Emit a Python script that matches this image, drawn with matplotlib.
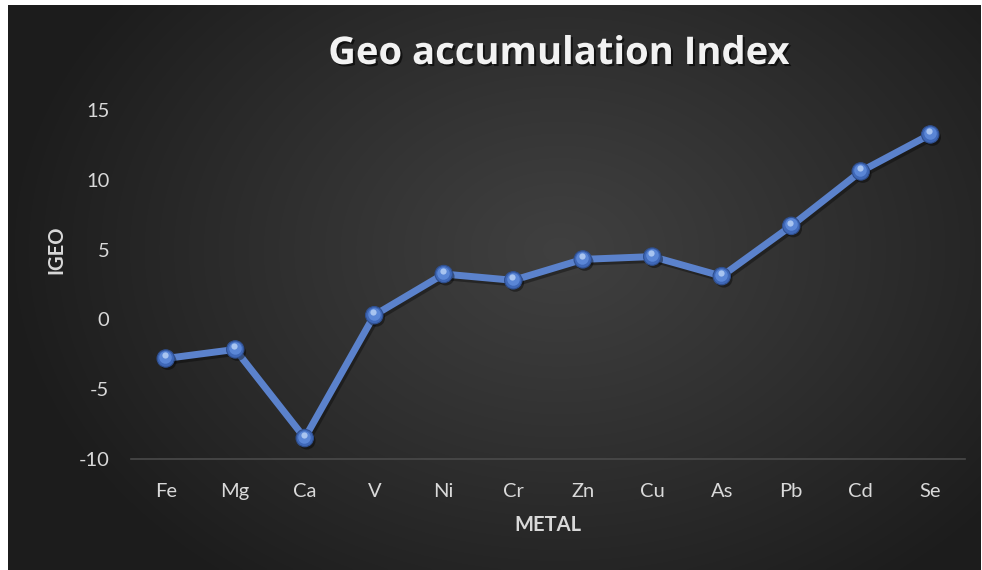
import numpy as np
import matplotlib
matplotlib.use("Agg")
import matplotlib.pyplot as plt
import matplotlib.patheffects as pe
from matplotlib.transforms import offset_copy

metals = ["Fe", "Mg", "Ca", "V", "Ni", "Cr", "Zn", "Cu", "As", "Pb", "Cd", "Se"]
igeo = [-2.8, -2.15, -8.5, 0.3, 3.25, 2.8, 4.3, 4.5, 3.1, 6.7, 10.6, 13.25]
yticks = [-10, -5, 0, 5, 10, 15]

W, H = 982, 570
fig = plt.figure(figsize=(W / 100, H / 100), dpi=100)
fig.patch.set_facecolor("white")

# background panel with radial gradient
bg = fig.add_axes([0, 0, 1, 1])
bg.set_xlim(0, W)
bg.set_ylim(H, 0)
bg.axis("off")
x0, x1, y0, y1 = 8, 981, 5, 570
gx, gy = np.meshgrid(np.linspace(x0, x1, 400), np.linspace(y0, y1, 240))
cx, cy = 560, 250
r = np.sqrt(((gx - cx) / 560) ** 2 + ((gy - cy) / 420) ** 2)
r = np.clip(r, 0, 1)
lo, hi = 0.11, 0.25
val = hi - (hi - lo) * r ** 1.1
img = np.dstack([val, val, val])
bg.imshow(img, extent=[x0, x1, y1, y0], aspect="auto", interpolation="bilinear")

ax = fig.add_axes([131 / W, 1 - 459 / H, 834 / W, 349 / H])
ax.patch.set_alpha(0)
xs = np.arange(len(metals))
ax.set_xlim(-0.5, len(metals) - 0.5)
ax.set_ylim(-10, 15)

for s in ["top", "right", "left"]:
    ax.spines[s].set_visible(False)
ax.spines["bottom"].set_color("#4a4a4a")
ax.spines["bottom"].set_linewidth(1.2)
ax.spines["bottom"].set_position(("data", -10))

font = "Lato"
tick_col = "#d9d9d9"
ax.set_yticks(yticks)
ax.set_yticklabels([str(v) for v in yticks])
ax.set_xticks(xs)
ax.set_xticklabels(metals)
ax.tick_params(axis="both", length=0, colors=tick_col, labelsize=14.5)
ax.tick_params(axis="y", pad=15.5)
ax.tick_params(axis="x", pad=17.5)
for lab in ax.get_xticklabels() + ax.get_yticklabels():
    lab.set_fontfamily(font)

line_col = "#5b82cc"
ax.plot(xs, igeo, color=line_col, lw=5, solid_capstyle="round", zorder=3,
        path_effects=[pe.SimpleLineShadow(offset=(1.5, -2), shadow_color="black", alpha=0.35),
                      pe.Normal()])
ax.plot(xs, igeo, ls="none", marker="o", ms=12.5, mfc="#3f68b8", mec="#2f4f8f", mew=0.8,
        zorder=4,
        path_effects=[pe.SimplePatchShadow(offset=(1.5, -2), shadow_rgbFace="black", alpha=0.4),
                      pe.Normal()])
ax.plot(xs, igeo, ls="none", marker="o", ms=9, mfc="#5a86d6", mec="none", zorder=5,
        transform=offset_copy(ax.transData, fig=fig, x=-0.3, y=1.0, units="points"))
ax.plot(xs, igeo, ls="none", marker="o", ms=4.5, mfc="#a8c4f0", mec="none", zorder=6,
        transform=offset_copy(ax.transData, fig=fig, x=-0.6, y=2.3, units="points"))

ax.set_ylabel("IGEO", color=tick_col, fontsize=14.5, fontweight="bold", fontfamily=font)
ax.yaxis.set_label_coords(-(131 - 56) / 834, 0.5 + (319 - 284.5) / 349)
ax.set_xlabel("METAL", color=tick_col, fontsize=14.5, fontweight="bold", fontfamily=font)
ax.xaxis.set_label_coords((548 - 131) / 834, -(525 - 459) / 349)
ax.xaxis.label.set_va("center")
ax.yaxis.label.set_va("center")

fig.text(559.5 / W, 1 - 54 / H, "Geo accumulation Index", ha="center", va="center",
         fontsize=27.5, fontweight="bold", fontfamily="Open Sans", color="#f2f2f2",
         path_effects=[pe.withSimplePatchShadow(offset=(1.5, -1.5), shadow_rgbFace="black", alpha=0.6)])

fig.savefig("out.png", dpi=100, facecolor=fig.get_facecolor())
